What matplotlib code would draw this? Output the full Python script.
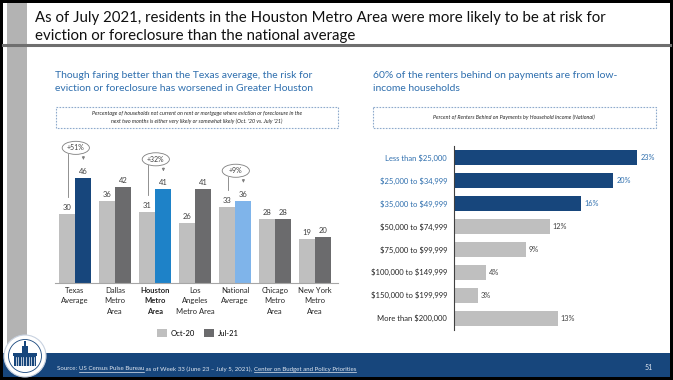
import matplotlib.pyplot as plt
import numpy as np
from matplotlib.patches import Rectangle, Ellipse, Circle

plt.rcParams['font.family'] = ['Lato', 'DejaVu Sans']
plt.rcParams['text.parse_math'] = False

# left chart data
areas = ['Texas\nAverage', 'Dallas\nMetro\nArea', 'Houston\nMetro\nArea', 'Los\nAngeles\nMetro Area',
         'National\nAverage', 'Chicago\nMetro\nArea', 'New York\nMetro\nArea']
oct20 = [30, 36, 31, 26, 33, 28, 19]
jul21 = [46, 42, 41, 41, 36, 28, 20]
jul_colors = ['#17467c', '#6b6b6d', '#1e82c8', '#6b6b6d', '#7fb4ea', '#6b6b6d', '#6b6b6d']
change_idx = [0, 2, 4]
change_txt = ['+51%', '+32%', '+9%']

# right chart data
incomes = ['Less than $25,000', '$25,000 to $34,999', '$35,000 to $49,999', '$50,000 to $74,999',
           '$75,000 to $99,999', '$100,000 to $149,999', '$150,000 to $199,999', 'More than $200,000']
shares = [23, 20, 16, 12, 9, 4, 3, 13]
n_low = 3

W, H = 673, 380
NAVY = '#17467c'
BLUE_TXT = '#2f6fae'
GRAY = '#bfbfbf'
DARK = '#404040'

fig = plt.figure(figsize=(W / 100, H / 100), dpi=100)


def px_axes(x0, y0, x1, y1):
    return fig.add_axes([x0 / W, 1 - y1 / H, (x1 - x0) / W, (y1 - y0) / H])


# slide background in pixel coordinates
bg = fig.add_axes([0, 0, 1, 1])
bg.set_xlim(0, W)
bg.set_ylim(H, 0)
bg.axis('off')
bg.add_patch(Rectangle((0, 0), W, H, facecolor='black', zorder=0))
bg.add_patch(Rectangle((3, 3), 667, 374, facecolor='white', zorder=1))
bg.add_patch(Rectangle((7, 3), 20, 345, facecolor='#b3b3b3', zorder=2))
bg.plot([3, 670], [44.5, 44.5], color='#6f6f6f', lw=2.2, zorder=3)
bg.add_patch(Rectangle((3, 353), 667, 24, facecolor='#17467c', zorder=2))

bg.text(35, 18, 'As of July 2021, residents in the Houston Metro Area were more likely to be at risk for',
        fontsize=10.8, va='center', ha='left', color='#111111', zorder=4)
bg.text(35, 36, 'eviction or foreclosure than the national average',
        fontsize=10.8, va='center', ha='left', color='#111111', zorder=4)

# panel headlines
bg.text(55, 82, 'Though faring better than the Texas average, the risk for\n'
        'eviction or foreclosure has worsened in Greater Houston',
        fontsize=7.45, color=BLUE_TXT, va='center', ha='left', linespacing=1.45, zorder=4)
bg.text(373, 82, '60% of the renters behind on payments are from low-\nincome households',
        fontsize=7.45, color=BLUE_TXT, va='center', ha='left', linespacing=1.45, zorder=4)

# dotted caption boxes
bg.add_patch(Rectangle((55.7, 106.7), 282, 21.6, fill=False, edgecolor='#8eaacc',
                       lw=0.8, linestyle=(0, (1.5, 1.2)), zorder=4))
bg.text(196.7, 117.5, 'Percentage of households not current on rent or mortgage where eviction or foreclosure in the\n'
        "next two months is either very likely or somewhat likely (Oct. '20 vs. July '21)",
        fontsize=3.9, style='italic', color='#262626', ha='center', va='center', linespacing=1.5, zorder=4)
bg.add_patch(Rectangle((372.7, 106.7), 283.3, 21.6, fill=False, edgecolor='#8eaacc',
                       lw=0.8, linestyle=(0, (1.5, 1.2)), zorder=4))
bg.text(514.3, 117.5, 'Percent of Renters Behind on Payments by Household Income (National)',
        fontsize=3.9, style='italic', color='#262626', ha='center', va='center', zorder=4)

# footer
src = bg.text(57, 369, 'Source: ', fontsize=4.45, color='#dfe6f0', va='center', ha='left', zorder=4)
parts = [('US Census Pulse Bureau', True), (' as of Week 33 (June 23 \u2013 July 5, 2021), ', False),
         ('Center on Budget and Policy Priorities', True)]
fig.canvas.draw()
rend = fig.canvas.get_renderer()
x = 57 + src.get_window_extent(rend).width
for s, ul in parts:
    t = bg.text(x, 369, s, fontsize=4.45, color='#dfe6f0', va='center', ha='left', zorder=4)
    w = t.get_window_extent(rend).width
    if ul:
        bg.plot([x, x + w], [372.4, 372.4], color='#dfe6f0', lw=0.5, zorder=4)
    x += w
bg.text(645, 368, '51', fontsize=5, color='#dfe6f0', va='center', ha='left', zorder=4)

# county seal
bg.add_patch(Circle((25, 356), 21, facecolor='white', edgecolor='#c8d2e0', lw=0.8, zorder=5))
bg.add_patch(Circle((25, 356), 16.5, facecolor='none', edgecolor='#17467c', lw=0.6, zorder=6))
bg.add_patch(Rectangle((14, 356), 22, 10, facecolor='#17467c', zorder=6))
for cx in np.arange(15.5, 35, 2.6):
    bg.plot([cx, cx], [357, 366], color='white', lw=0.5, zorder=7)
bg.add_patch(Rectangle((13, 353), 24, 3, facecolor='#17467c', zorder=6))
bg.add_patch(Rectangle((22, 346), 6, 7, facecolor='#17467c', zorder=6))
bg.add_patch(Rectangle((24.2, 341), 1.6, 5, facecolor='#17467c', zorder=6))

# grouped bars
ax = px_axes(55, 134.1, 338, 283)
xs = np.arange(len(areas))
bw = 0.4
b1 = ax.bar(xs - bw / 2, oct20, bw, color=GRAY, label='Oct-20', zorder=2)
b2 = ax.bar(xs + bw / 2, jul21, bw, color=jul_colors, label='Jul-21', zorder=2)
for i in range(len(areas)):
    ax.text(xs[i] - bw / 2, oct20[i] + 1.3, str(oct20[i]), ha='center', va='bottom', fontsize=5.5, color=DARK)
    ax.text(xs[i] + bw / 2, jul21[i] + 1.3, str(jul21[i]), ha='center', va='bottom', fontsize=5.5, color=DARK)
ax.set_xlim(-0.5, 6.575)
ax.set_ylim(0, 65)
for s in ['top', 'right', 'left']:
    ax.spines[s].set_visible(False)
ax.spines['bottom'].set_color('#a6a6a6')
ax.spines['bottom'].set_linewidth(0.8)
ax.set_yticks([])
ax.set_xticks(xs)
ax.set_xticklabels(areas, fontsize=5.5, color='#262626', linespacing=1.55)
ax.tick_params(axis='x', length=0, pad=3)
ax.get_xticklabels()[2].set_fontweight('bold')

# change callouts
for i, txt in zip(change_idx, change_txt):
    ey = jul21[i] + 13
    ax.add_patch(Ellipse((xs[i] + 0.02, ey), 0.68, 5.7, facecolor='white', edgecolor='#7f7f7f',
                         lw=0.6, clip_on=False, zorder=3))
    ax.text(xs[i] + 0.02, ey, txt, ha='center', va='center', fontsize=5, color=DARK, zorder=4)
    ax.plot([xs[i] - 0.18, xs[i] - 0.18], [ey - 2.6, oct20[i] + 7.5], color='#7f7f7f', lw=0.6,
            clip_on=False, zorder=3)
    ax.annotate('', xy=(xs[i] + 0.21, jul21[i] + 6.5), xytext=(xs[i] + 0.21, ey - 2.6),
                arrowprops=dict(arrowstyle='-|>', color='#7f7f7f', lw=0.6, mutation_scale=4),
                annotation_clip=False)

leg = fig.legend(handles=[b1, b2[1]], labels=['Oct-20', 'Jul-21'], loc='center',
                 bbox_to_anchor=(198 / W, 1 - 333 / H), ncol=2, frameon=False, fontsize=5.5,
                 handlelength=1.3, handleheight=1.3, handletextpad=0.5, columnspacing=1.2)

# horizontal bars by income
ax2 = px_axes(454, 146, 650, 330)
ys = np.arange(len(incomes))
bar_colors = [NAVY if k < n_low else GRAY for k in range(len(incomes))]
ax2.barh(ys, shares, height=0.654, color=bar_colors, zorder=2)
for k, v in enumerate(shares):
    c = BLUE_TXT if k < n_low else DARK
    ax2.text(v + 0.4, k, f'{v}%', va='center', ha='left', fontsize=5.3, color=c)
ax2.set_xlim(0, 24.6)
ax2.set_ylim(7.52, -0.5)
for s in ['top', 'right', 'bottom']:
    ax2.spines[s].set_visible(False)
ax2.spines['left'].set_color('#404040')
ax2.spines['left'].set_linewidth(0.8)
ax2.set_xticks([])
ax2.set_yticks(ys)
ax2.set_yticklabels(incomes, fontsize=5.5)
ax2.tick_params(axis='y', length=0, pad=5)
for k, lab in enumerate(ax2.get_yticklabels()):
    lab.set_color(BLUE_TXT if k < n_low else '#262626')

fig.savefig('out.png', dpi=100)
